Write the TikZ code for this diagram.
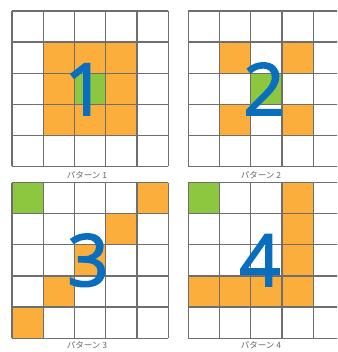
\documentclass[tikz,border=0pt]{standalone}
\usepackage{fontspec}
\newfontfamily\numfont[FakeBold=2.2]{Open Sans}
\newfontfamily\jpfont{Noto Sans CJK JP}
\definecolor{cellorange}{HTML}{FBAE3C}
\definecolor{cellgreen}{HTML}{8DC63F}
\definecolor{numblue}{HTML}{0A6EBF}
\definecolor{gridgray}{HTML}{6E6E6E}
\definecolor{labelgray}{HTML}{666666}
\tikzset{
  gridline/.style={draw=gridgray, line width=1.2pt},
  orangecell/.style={fill=cellorange},
  greencell/.style={fill=cellgreen},
  bignum/.style={font=\numfont\fontsize{72}{72}\selectfont, text=numblue, inner sep=0pt, anchor=base},
  caption/.style={font=\jpfont\fontsize{8.5}{8.5}\selectfont, text=labelgray, inner sep=0pt},
  gridscope/.style={x=31.26pt, y=-31.1pt}
}
\newcommand\mygridlines{%
  \foreach \i in {0,...,5} {
    \draw[gridline] (\i,0) -- (\i,5);
    \draw[gridline] (0,\i) -- (5,\i);
  }%
}
\begin{document}
\begin{tikzpicture}[x=1pt,y=1pt]
\useasboundingbox (0,0) rectangle (337,352);
\clip (0,0) rectangle (337,352);
\fill[white] (0,0) rectangle (337,352);
% grid 1
\begin{scope}[shift={(12pt,341pt)}, gridscope]
  \foreach \r/\c in {1/1,1/2,1/3,2/1,2/3,3/1,3/2,3/3}
    \fill[orangecell] (\c,\r) rectangle (\c+1,\r+1);
  \fill[greencell] (2,2) rectangle (3,3);
  \mygridlines
\end{scope}
% grid 2
\begin{scope}[shift={(188.3pt,341pt)}, gridscope]
  \foreach \r/\c in {1/1,1/3,3/1,3/3}
    \fill[orangecell] (\c,\r) rectangle (\c+1,\r+1);
  \fill[greencell] (2,2) rectangle (3,3);
  \mygridlines
\end{scope}
% grid 3
\begin{scope}[shift={(12pt,169.3pt)}, gridscope]
  \foreach \r/\c in {0/4,1/3,2/2,3/1,4/0}
    \fill[orangecell] (\c,\r) rectangle (\c+1,\r+1);
  \fill[greencell] (0,0) rectangle (1,1);
  \mygridlines
\end{scope}
% grid 4
\begin{scope}[shift={(188.3pt,169.3pt)}, gridscope]
  \foreach \r/\c in {0/3,1/3,2/3,3/3,3/0,3/1,3/2}
    \fill[orangecell] (\c,\r) rectangle (\c+1,\r+1);
  \fill[greencell] (0,0) rectangle (1,1);
  \mygridlines
\end{scope}
% big numbers
\node[bignum] (n1) at (85,237) {1};
\node[bignum] (n2) at (264,237) {2};
\node[bignum] (n3) at (88,66) {3};
\node[bignum] (n4) at (260,66) {4};
% captions
\node[caption] (c1) at (87,177) {パターン 1};
\node[caption] (c2) at (261,177) {パターン 2};
\node[caption] (c3) at (87,7) {パターン 3};
\node[caption] (c4) at (261,7) {パターン 4};
\end{tikzpicture}
\end{document}
